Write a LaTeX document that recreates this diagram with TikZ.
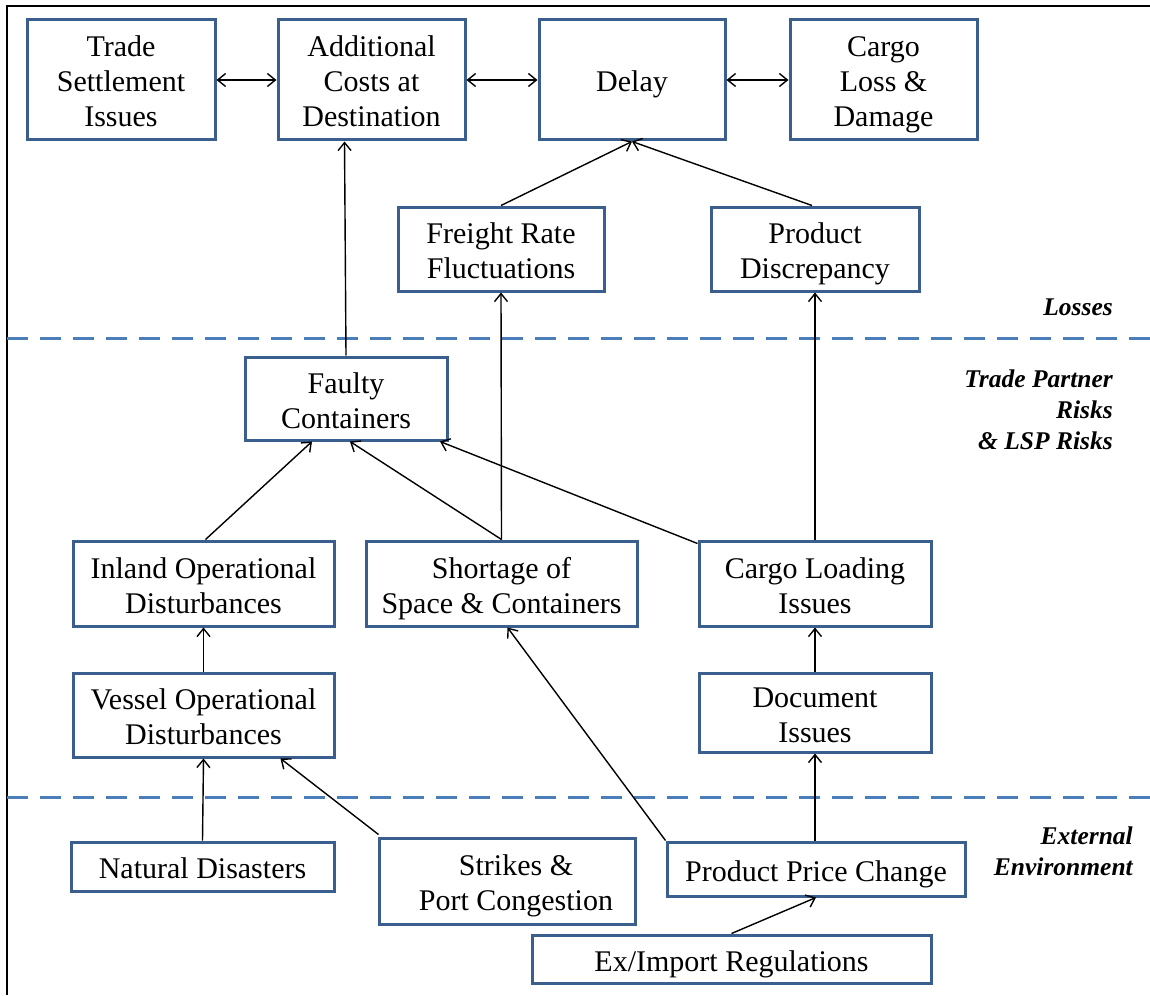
\documentclass[tikz,border=0pt]{standalone}
\usepackage{fontspec}
\setmainfont{Liberation Serif}
\usetikzlibrary{arrows.meta}
\definecolor{boxblue}{HTML}{3A5F8E}
\definecolor{dashblue}{HTML}{4A7EBB}
% struts giving every box text the same line box
\newcommand\upstrut{\rule{0pt}{32pt}}
\newcommand\lowstrut{\rule[-8pt]{0pt}{8pt}}
\begin{document}
\begin{tikzpicture}[x=1pt,y=-1pt,
  box/.style={draw=boxblue, line width=3pt, fill=white, align=center,
    inner sep=0pt, font=\fontsize{30}{35}\selectfont},
  lbl/.style={align=right, anchor=east, inner sep=0pt,
    font=\fontsize{25.5}{31}\selectfont\bfseries\itshape},
  tip/.tip={Straight Barb[length=8pt,width=13pt,line width=1.4pt]},
  link/.style={line width=1.4pt, -tip},
  both/.style={line width=1.4pt, tip-tip},
  sep/.style={dashblue, line width=3pt, dash pattern=on 21pt off 12pt}]

\useasboundingbox (0,0) rectangle (1150,995);

% frame
\draw[line width=2pt] (7,995) -- (7,6) -- (1150,6);

% layer separators
\draw[sep] (7,338) -- (1150,338);
\draw[sep] (7,797) -- (1150,797);

% layer labels
\node[lbl] (lloss) at (1113,307) {Losses};
\node[lbl] (lrisk) at (1113,410) {Trade Partner\\Risks\\\& LSP Risks};
\node[lbl] (lenv)  at (1133,851) {External\\Environment};

% losses
\node[box, minimum width=188pt, minimum height=120pt] (ts) at (121,80) {\upstrut Trade\\Settlement\\Issues\lowstrut};
\node[box, minimum width=187pt, minimum height=120pt] (ac) at (371.5,80) {\upstrut Additional\\Costs at\\Destination\lowstrut};
\node[box, minimum width=186pt, minimum height=120pt] (dl) at (632,80) {\upstrut Delay\lowstrut};
\node[box, minimum width=187pt, minimum height=120pt] (cg) at (883.5,80) {\upstrut Cargo\\Loss \&\\Damage\lowstrut};
\node[box, minimum width=206pt, minimum height=84pt] (fr) at (501,249) {\upstrut Freight Rate\\Fluctuations\lowstrut};
\node[box, minimum width=208pt, minimum height=84pt] (pd) at (815,249) {\upstrut Product\\Discrepancy\lowstrut};

% trade partner and LSP risks
\node[box, minimum width=202pt, minimum height=83pt] (fc) at (346,398.5) {\upstrut Faulty\\Containers\lowstrut};
\node[box, minimum width=261pt, minimum height=85pt] (inl) at (203.5,583.5) {\upstrut Inland Operational\\Disturbances\lowstrut};
\node[box, minimum width=271pt, minimum height=85pt] (sh) at (501.5,583.5) {\upstrut Shortage of\\Space \& Containers\lowstrut};
\node[box, minimum width=232pt, minimum height=85pt] (cl) at (815,583.5) {\upstrut Cargo Loading\\Issues\lowstrut};
\node[box, minimum width=261pt, minimum height=84pt] (vs) at (203.5,715) {\upstrut Vessel Operational\\Disturbances\lowstrut};
\node[box, minimum width=232pt, minimum height=79pt] (doc) at (815,712.5) {\upstrut Document\\Issues\lowstrut};

% external environment
\node[box, minimum width=263pt, minimum height=49pt] (nd) at (202.5,866.5) {\upstrut Natural Disasters\lowstrut};
\node[box, minimum width=256pt, minimum height=86pt] (st) at (507,881) {\upstrut\hspace*{18pt}Strikes \&\\\hspace*{18pt}Port Congestion\lowstrut};
\node[box, minimum width=298pt, minimum height=54pt] (ppc) at (816,869) {\upstrut Product Price Change\lowstrut};
\node[box, minimum width=399pt, minimum height=48pt] (ex) at (731.5,959) {\upstrut Ex/Import Regulations\lowstrut};

% links between losses
\draw[both] (ts.east) -- (ac.west);
\draw[both] (ac.east) -- (dl.west);
\draw[both] (dl.east) -- (cg.west);
\draw[link] (fr.north) -- (dl.south);
\draw[link] ([xshift=-3pt]pd.north) -- (dl.south);

% links from risks
\draw[link] (fc.north) -- ([xshift=-27pt]ac.south);
\draw[link] (sh.north) -- (fr.south);
\draw[link] (cl.north) -- (pd.south);
\draw[link] ([xshift=2pt]inl.north) -- ([xshift=-34pt]fc.south);
\draw[link] (sh.north) -- ([xshift=4pt]fc.south);
\draw[link] ([yshift=-4pt]cl.north west) -- ([xshift=94pt]fc.south);
\draw[link] (vs.north) -- (inl.south);
\draw[link] (doc.north) -- (cl.south);

% links from the environment
\draw[link] (nd.north) -- (vs.south);
\draw[link] ([xshift=1pt,yshift=2pt]st.north west) -- ([xshift=77pt]vs.south);
\draw[link] (ppc.north west) -- ([xshift=6pt]sh.south);
\draw[link] ([xshift=-1pt]ppc.north) -- (doc.south);
\draw[link] (ex.north) -- (ppc.south);
\end{tikzpicture}
\end{document}
